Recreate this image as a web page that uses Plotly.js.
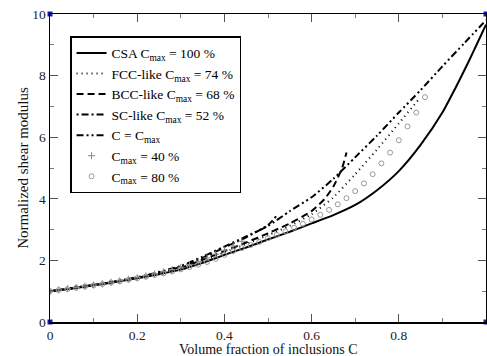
<!DOCTYPE html>
<html>
<head>
<meta charset="utf-8">
<script src="https://cdn.plot.ly/plotly-3.0.1.min.js"></script>
<style>html,body{margin:0;padding:0;background:#fff;}#chart{width:487px;height:356px;}</style>
</head>
<body>
<div id="chart"></div>
<script>
// ---- data ----
const csaX = [0,0.05,0.1,0.15,0.2,0.25,0.3,0.35,0.4,0.45,0.5,0.55,0.6,0.65,0.7,0.75,0.8,0.85,0.9,0.93,0.96,0.98,1.0];
const csaY = [1.0,1.09,1.19,1.3,1.42,1.55,1.7,1.92,2.18,2.42,2.68,2.93,3.2,3.47,3.8,4.28,4.9,5.75,6.8,7.6,8.45,9.05,9.65];

const fccX = [0,0.1,0.2,0.3,0.35,0.4,0.45,0.5,0.55,0.6,0.65,0.7,0.75,0.8,0.85];
const fccY = [1.0,1.2,1.43,1.74,1.98,2.26,2.53,2.82,3.12,3.5,4.05,4.8,5.6,6.45,7.3];

const bccX = [0,0.1,0.2,0.3,0.35,0.4,0.45,0.5,0.55,0.6,0.63,0.65,0.67,0.68];
const bccY = [1.0,1.2,1.43,1.76,2.02,2.3,2.58,2.88,3.2,3.6,4.0,4.4,5.0,5.5];

const scX = [0,0.1,0.2,0.3,0.35,0.4,0.45,0.5,0.52];
const scY = [1.0,1.2,1.44,1.79,2.08,2.42,2.75,3.15,3.45];

const ccX = [0,0.1,0.2,0.3,0.35,0.4,0.45,0.5,0.55,0.6,0.65,0.7,0.75,0.8,0.85,0.9,0.95,1.0];
const ccY = [1.0,1.2,1.45,1.82,2.12,2.45,2.78,3.12,3.6,4.05,4.65,5.35,6.05,6.8,7.53,8.3,9.05,9.8];

const c40X = [0,0.02,0.04,0.06,0.08,0.1,0.12,0.14,0.16,0.18,0.2,0.22,0.24,0.26,0.28,0.3,0.32,0.34,0.36,0.38,0.4,0.42,0.44];
const c40Y = [1.0,1.04,1.08,1.12,1.16,1.2,1.24,1.29,1.34,1.39,1.44,1.5,1.56,1.63,1.7,1.78,1.87,1.97,2.08,2.2,2.33,2.47,2.62];

const c80X = [0,0.02,0.04,0.06,0.08,0.1,0.12,0.14,0.16,0.18,0.2,0.22,0.24,0.26,0.28,0.3,0.32,0.34,0.36,0.38,0.4,0.42,0.44,0.46,0.48,0.5,0.52,0.54,0.56,0.58,0.6,0.62,0.64,0.66,0.68,0.7,0.72,0.74,0.76,0.78,0.8,0.82,0.84,0.86];
const c80Y = [1.0,1.04,1.07,1.11,1.15,1.19,1.23,1.28,1.32,1.37,1.42,1.47,1.53,1.58,1.64,1.71,1.78,1.86,1.95,2.05,2.18,2.3,2.4,2.5,2.6,2.72,2.83,2.94,3.06,3.19,3.33,3.48,3.64,3.82,4.02,4.25,4.5,4.8,5.15,5.5,5.9,6.35,6.8,7.3];

const cornerX = [0,1,0,1];
const cornerY = [0,0,10,10];

const names = ["CSA C<sub>max</sub> = 100 %","FCC-like C<sub>max</sub> = 74 %","BCC-like C<sub>max</sub> = 68 %","SC-like C<sub>max</sub> = 52 %","C = C<sub>max</sub>","C<sub>max</sub> = 40 %","C<sub>max</sub> = 80 %"];
const xTicks = [0,0.2,0.4,0.6,0.8,1];
const yTicks = [0,2,4,6,8,10];
const xTitle = "Volume fraction of inclusions C";
const yTitle = "Normalized shear modulus";

const FONT = "'Liberation Serif', 'Times New Roman', Times, serif";
const traces = [
  {x:csaX,y:csaY,name:names[0],mode:"lines",line:{color:"#000",width:2,dash:"solid",shape:"spline",smoothing:0.6}},
  {x:fccX,y:fccY,name:names[1],mode:"lines",line:{color:"#000",width:2,dash:"1px,4px",shape:"spline",smoothing:0.6}},
  {x:bccX,y:bccY,name:names[2],mode:"lines",line:{color:"#000",width:2,dash:"7px,4px",shape:"spline",smoothing:0.6}},
  {x:scX,y:scY,name:names[3],mode:"lines",line:{color:"#000",width:2,dash:"2px,3px,7px,3px",shape:"spline",smoothing:0.6}},
  {x:ccX,y:ccY,name:names[4],mode:"lines",line:{color:"#000",width:2,dash:"7px,3px,2px,3px,2px,3px",shape:"spline",smoothing:0.6}},
  {x:c40X,y:c40Y,name:names[5],mode:"markers",marker:{symbol:"cross-thin-open",size:5,color:"#888",line:{color:"#888",width:1}}},
  {x:c80X,y:c80Y,name:names[6],mode:"markers",marker:{symbol:"circle-open",size:5,color:"#999",line:{color:"#999",width:1}}},
  {x:cornerX,y:cornerY,mode:"markers",showlegend:false,cliponaxis:false,hoverinfo:"skip",marker:{symbol:"square",size:5,color:"#1a1aa0"}}
];

const axisCommon = {
  showgrid:false, zeroline:false, showline:true, linecolor:"#000", linewidth:1.5,
  mirror:"allticks", ticks:"inside", ticklen:8, tickwidth:1, tickcolor:"#555",
  tickfont:{family:FONT,size:13.5,color:"#222"}, automargin:false
};

const layout = {
  width:487, height:356,
  margin:{l:50,r:1,t:14,b:34,pad:0},
  paper_bgcolor:"#fff", plot_bgcolor:"#fff",
  font:{family:FONT,color:"#000"},
  showlegend:true,
  xaxis:Object.assign({}, axisCommon, {
    range:[0,1], tickvals:xTicks, ticktext:xTicks.map(String),
    minor:{dtick:0.1, ticks:"inside", ticklen:4, tickcolor:"#777"}
  }),
  yaxis:Object.assign({}, axisCommon, {
    range:[0,10], tickvals:yTicks, ticktext:yTicks.map(String),
    minor:{dtick:1, ticks:"inside", ticklen:4, tickcolor:"#777"},
    title:{text:yTitle, font:{family:FONT,size:15,color:"#111"}, standoff:0}
  }),
  annotations:[{text:xTitle, xref:"paper", yref:"paper", x:0.5, y:0, xanchor:"center", yanchor:"top",
    yshift:-18.5, borderpad:0, showarrow:false, font:{family:FONT,size:14,color:"#111"}}],
  legend:{x:0.046,y:0.928,xanchor:"left",yanchor:"top",bgcolor:"#fff",bordercolor:"#000",borderwidth:1.5,
    font:{family:FONT,size:13.5,color:"#000"},itemwidth:30,tracegroupgap:0}
};

Plotly.newPlot("chart", traces, layout, {staticPlot:true, displayModeBar:false});
</script>
</body>
</html>
